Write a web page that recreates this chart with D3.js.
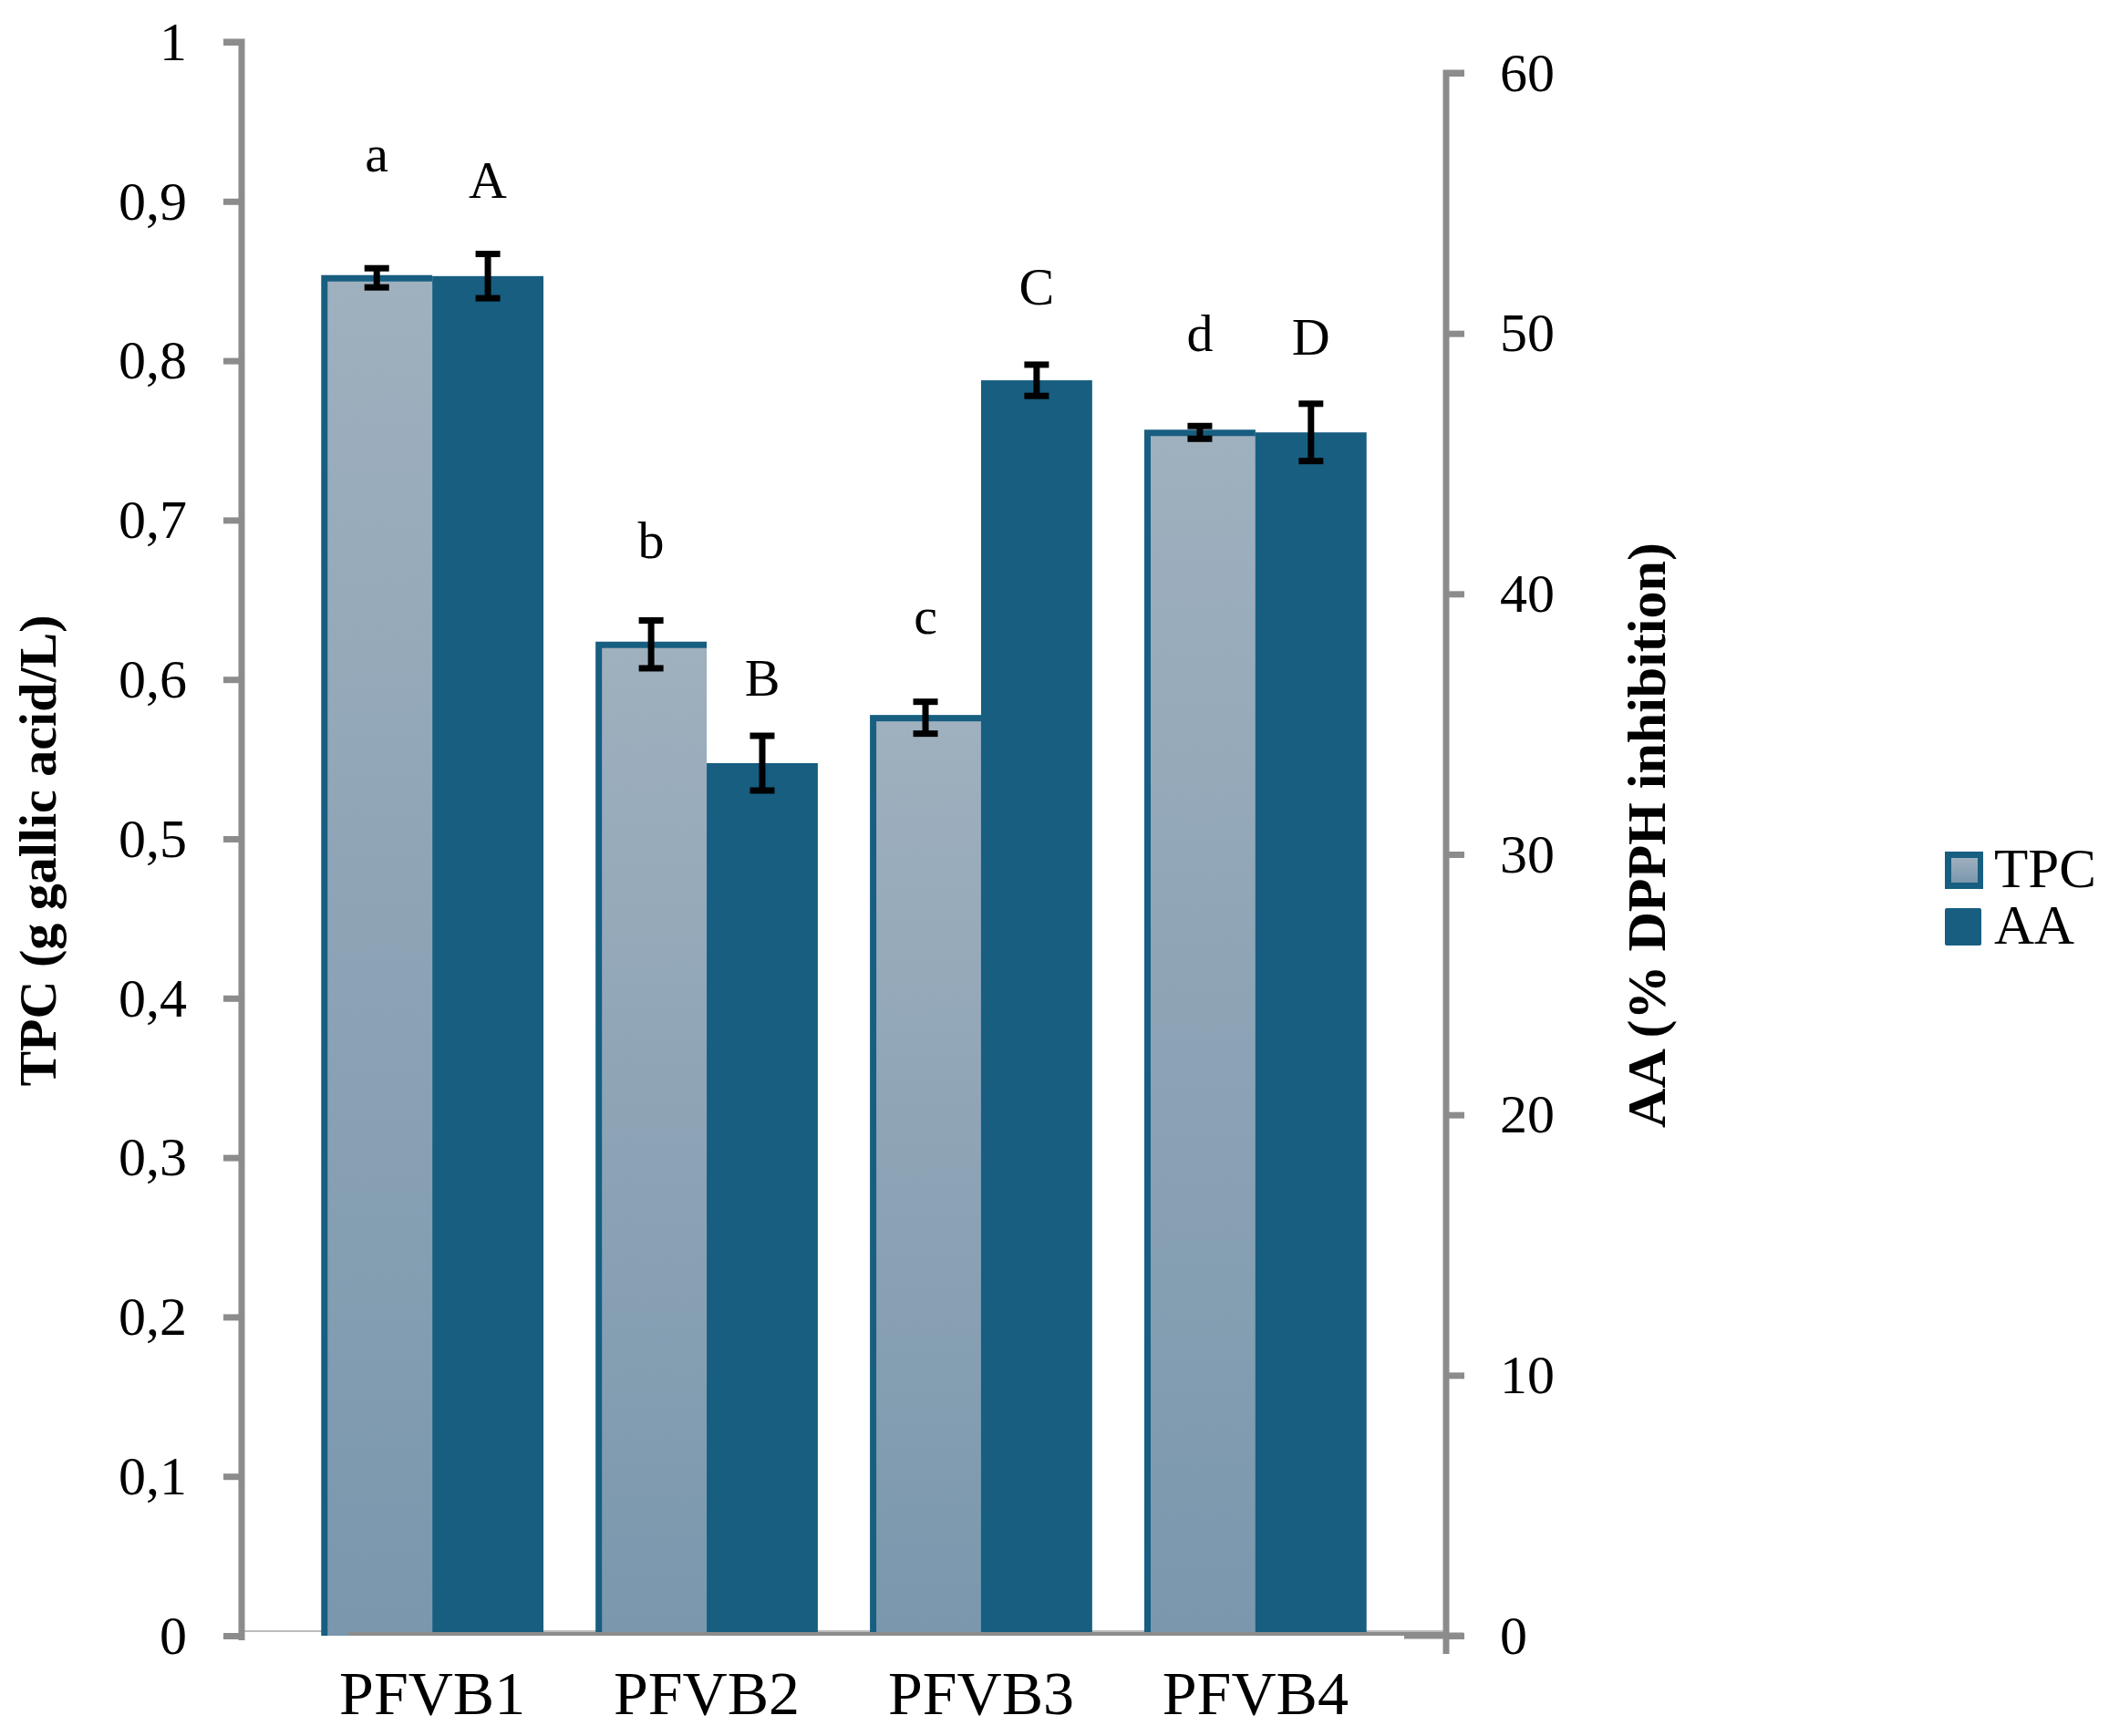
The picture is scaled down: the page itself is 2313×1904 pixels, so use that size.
<!DOCTYPE html>
<html><head><meta charset="utf-8">
<script src="https://cdn.jsdelivr.net/npm/d3@7"></script>
<style>html,body{margin:0;padding:0;background:#fff;}</style>
</head><body>
<script>
const categories = ["PFVB1","PFVB2","PFVB3","PFVB4"];
const tpcValues = [0.852, 0.622, 0.576, 0.755];
const tpcErrors = [0.006, 0.015, 0.010, 0.004];
const aaValues = [52.2, 33.5, 48.2, 46.2];
const aaErrors = [0.85, 1.05, 0.6, 1.1];
const tpcLetters = ["a","b","c","d"];
const aaLetters = ["A","B","C","D"];
const tpcLetterAt = [0.919, 0.676, 0.629, 0.806];
const aaLetterAt = [55.2, 36.1, 51.1, 49.2];
const leftTicks = [0,0.1,0.2,0.3,0.4,0.5,0.6,0.7,0.8,0.9,1];
const rightTicks = [0,10,20,30,40,50,60];
const seriesNames = ["TPC","AA"];

const W = 2313, H = 1904;
const svg = d3.select("body").append("svg").attr("width", W).attr("height", H);
const font = "'Liberation Serif', 'DejaVu Serif', serif";
const dark = "#175e81", axisGray = "#8c8c8c";

const defs = svg.append("defs");
const grad = defs.append("linearGradient").attr("id","tpcGrad").attr("x1",0).attr("y1",0).attr("x2",0).attr("y2",1);
grad.append("stop").attr("offset","0%").attr("stop-color","#9fb0be");
grad.append("stop").attr("offset","100%").attr("stop-color","#7a97ad");

const xLeft = 265, xRight = 1586;
const x = d3.scaleBand().domain(categories).range([xLeft, xRight]).paddingInner(0.19).paddingOuter(0.29);
const xs = d3.scaleBand().domain(seriesNames).range([0, x.bandwidth()]);
const yL = d3.scaleLinear().domain([0,1]).range([1794, 46]);
const yR = d3.scaleLinear().domain([0,60]).range([1794, 80]);

// thin primary category axis line
svg.append("line").attr("x1",xLeft).attr("x2",xRight).attr("y1",1789).attr("y2",1789)
  .attr("stroke","#a6a6a6").attr("stroke-width",1.5);

// TPC bars: dark border + gradient interior
const g = svg.append("g");
const bw = xs.bandwidth();
g.selectAll("rect.tpcOuter").data(categories).join("rect").attr("class","tpcOuter")
  .attr("x", d=> x(d) + xs("TPC"))
  .attr("y", (d,i)=> yL(tpcValues[i]) - 3)
  .attr("width", bw)
  .attr("height", (d,i)=> yL(0) - yL(tpcValues[i]) + 3)
  .attr("fill", dark);
g.selectAll("rect.tpcInner").data(categories).join("rect").attr("class","tpcInner")
  .attr("x", d=> x(d) + xs("TPC") + 7)
  .attr("y", (d,i)=> yL(tpcValues[i]) + 4)
  .attr("width", bw - 7)
  .attr("height", (d,i)=> yL(0) - yL(tpcValues[i]) - 4)
  .attr("fill","url(#tpcGrad)");
// AA bars
g.selectAll("rect.aa").data(categories).join("rect").attr("class","aa")
  .attr("x", d=> x(d) + xs("AA"))
  .attr("y", (d,i)=> yR(aaValues[i]))
  .attr("width", bw)
  .attr("height", (d,i)=> yR(0) - yR(aaValues[i]))
  .attr("fill", dark);

// secondary x axis line
svg.append("line").attr("x1",x(categories[0]) + 30).attr("x2",xRight).attr("y1",1792).attr("y2",1792)
  .attr("stroke",axisGray).attr("stroke-width",4);
svg.append("line").attr("x1",1540).attr("x2",1605).attr("y1",1794).attr("y2",1794)
  .attr("stroke",axisGray).attr("stroke-width",7);

// error bars
function errBars(vals, errs, scale, key){
  const eg = svg.append("g").attr("stroke","#000").attr("stroke-width",7);
  categories.forEach((c,i)=>{
    const cx = x(c) + xs(key) + bw/2;
    const y1 = scale(vals[i]+errs[i]), y2 = scale(vals[i]-errs[i]);
    eg.append("line").attr("x1",cx).attr("x2",cx).attr("y1",y1).attr("y2",y2);
    eg.append("line").attr("x1",cx-13.5).attr("x2",cx+13.5).attr("y1",y1).attr("y2",y1);
    eg.append("line").attr("x1",cx-13.5).attr("x2",cx+13.5).attr("y1",y2).attr("y2",y2);
  });
}
errBars(tpcValues, tpcErrors, yL, "TPC");
errBars(aaValues, aaErrors, yR, "AA");

// letters
svg.append("g").selectAll("text").data(categories).join("text")
  .attr("x",d=> x(d)+xs("TPC")+bw/2)
  .attr("y",(d,i)=> yL(tpcLetterAt[i]))
  .attr("text-anchor","middle").attr("font-family",font).attr("font-size",58)
  .text((d,i)=>tpcLetters[i]);
svg.append("g").selectAll("text").data(categories).join("text")
  .attr("x",d=> x(d)+xs("AA")+bw/2)
  .attr("y",(d,i)=> yR(aaLetterAt[i]))
  .attr("text-anchor","middle").attr("font-family",font).attr("font-size",58)
  .text((d,i)=>aaLetters[i]);

// left axis
const fmt = d3.format(".1f");
const la = svg.append("g").attr("transform",`translate(${xLeft},0)`)
  .call(d3.axisLeft(yL).tickValues(leftTicks).tickSize(20).tickPadding(40)
    .tickFormat(d=> d===0 ? "0" : d===1 ? "1" : fmt(d).replace(".",",")));
la.select(".domain").attr("stroke",axisGray).attr("stroke-width",7).attr("d","M-20,46H0V1799");
la.selectAll(".tick line").attr("stroke",axisGray).attr("stroke-width",7);
la.selectAll(".tick text").attr("font-family",font).attr("font-size",60).attr("fill","#000");

// right axis
const ra = svg.append("g").attr("transform",`translate(${xRight},0)`)
  .call(d3.axisRight(yR).tickValues(rightTicks).tickSize(20).tickPadding(39));
ra.select(".domain").attr("stroke",axisGray).attr("stroke-width",7).attr("d","M20,80H0V1814");
ra.selectAll(".tick line").attr("stroke",axisGray).attr("stroke-width",7);
ra.selectAll(".tick text").attr("font-family",font).attr("font-size",60).attr("fill","#000");

// category labels
svg.append("g").selectAll("text").data(categories).join("text")
  .attr("x",d=> x(d)+x.bandwidth()/2).attr("y",1880)
  .attr("text-anchor","middle").attr("font-family",font).attr("font-size",68)
  .text(d=>d);

// axis titles
svg.append("text").attr("transform","translate(61,933) rotate(-90)")
  .attr("text-anchor","middle").attr("font-family",font).attr("font-weight","bold").attr("font-size",58)
  .text("TPC (g gallic acid/L)");
svg.append("text").attr("transform","translate(1826,916) rotate(-90)")
  .attr("text-anchor","middle").attr("font-family",font).attr("font-weight","bold").attr("font-size",60)
  .text("AA (% DPPH inhibition)");

// legend
const lg = svg.append("g");
lg.append("rect").attr("x",2133).attr("y",934).attr("width",42).attr("height",41).attr("fill",dark);
lg.append("rect").attr("x",2140).attr("y",941).attr("width",29).attr("height",27).attr("fill","url(#tpcGrad)");
lg.append("rect").attr("x",2133).attr("y",996).attr("width",40).attr("height",41).attr("rx",2).attr("fill",dark);
lg.append("text").attr("x",2187).attr("y",973).attr("font-family",font).attr("font-size",61).text(seriesNames[0]);
lg.append("text").attr("x",2187).attr("y",1035).attr("font-family",font).attr("font-size",61).text(seriesNames[1]);
</script>
</body></html>
